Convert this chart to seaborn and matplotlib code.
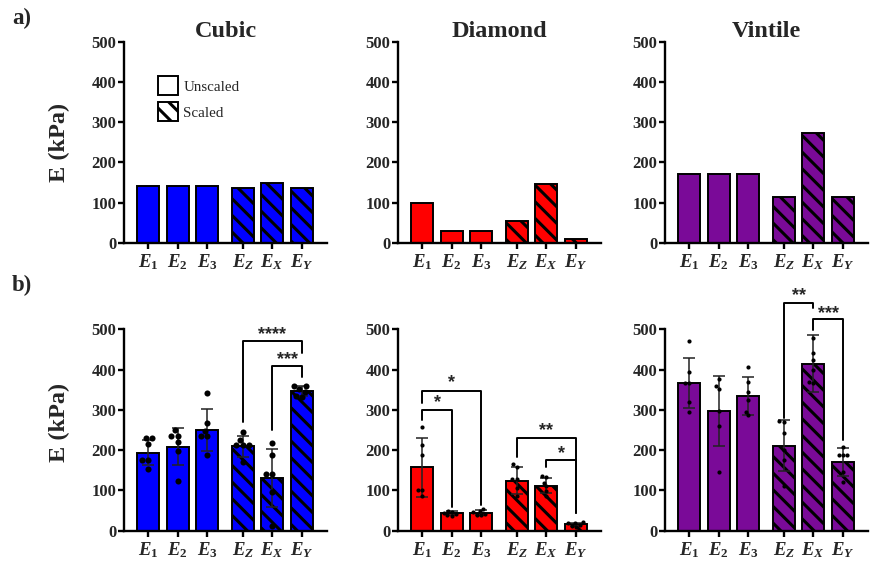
import numpy as np
import pandas as pd
import matplotlib
matplotlib.use("Agg")
import matplotlib.pyplot as plt
import seaborn as sns
from matplotlib.patches import Patch

sns.set_theme(style="ticks")
plt.rcParams["font.family"] = ["Liberation Serif", "DejaVu Serif"]
plt.rcParams["mathtext.fontset"] = "custom"
plt.rcParams["mathtext.rm"] = "Liberation Serif:bold"
plt.rcParams["mathtext.it"] = "Liberation Serif:italic:bold"
plt.rcParams["mathtext.bf"] = "Liberation Serif:bold"
plt.rcParams["hatch.linewidth"] = 2.2

# ---------------- data ----------------
components = ["E1", "E2", "E3", "EZ", "EX", "EY"]
tick_labels = [r"$E_1$", r"$E_2$", r"$E_3$", r"$E_Z$", r"$E_X$", r"$E_Y$"]
is_scaled = [False, False, False, True, True, True]
lattices = ["Cubic", "Diamond", "Vintile"]
lattice_colors = ["#0000ff", "#ff0000", "#7a0a98"]

# (a) single-value moduli
top_cubic = [142, 142, 142, 137, 148, 137]
top_diamond = [100, 29, 29, 53, 145, 8]
top_vintile = [170, 170, 170, 114, 274, 114]

# (b) mean, SD and individual samples
mean_cubic = [194, 209, 250, 210, 131, 346]
sd_cubic = [32, 47, 52, 26, 73, 12]
pts_cubic = [
    [229, 229, 215, 175, 175, 153],
    [250, 236, 236, 220, 198, 123],
    [341, 268, 248, 234, 234, 188],
    [246, 226, 214, 214, 212, 170],
    [218, 188, 140, 140, 95, 12],
    [360, 360, 352, 345, 335, 332],
]
mean_diamond = [157, 43, 45, 124, 112, 16]
sd_diamond = [74, 5, 6, 33, 19, 4]
pts_diamond = [
    [257, 214, 188, 101, 101, 85],
    [50, 47, 44, 41, 38, 36],
    [55, 48, 46, 42, 40, 38],
    [165, 159, 128, 128, 105, 85],
    [137, 133, 118, 110, 98, 85],
    [22, 20, 18, 15, 12, 10],
]
mean_vintile = [366, 297, 335, 211, 415, 171]
sd_vintile = [62, 86, 47, 63, 70, 34]
pts_vintile = [
    [470, 395, 366, 366, 320, 295],
    [376, 358, 351, 298, 260, 146],
    [406, 370, 344, 325, 295, 287],
    [272, 270, 242, 200, 175, 112],
    [479, 440, 424, 400, 370, 366],
    [208, 188, 188, 188, 145, 120],
]

# significance: (i, j, bracket top, left leg end, right leg end, label, label y)
sig_cubic = [(3, 5, 470, 271, 440, "****", 486), (4, 5, 410, 250, 382, "***", 424)]
sig_diamond = [(0, 2, 347, 318, 64, "*", 368), (0, 1, 300, 275, 60, "*", 319),
               (3, 5, 231, 184, 45, "**", 248), (4, 5, 175, 157, 45, "*", 192)]
sig_vintile = [(3, 4, 566, 279, 552, "**", 583), (4, 5, 525, 498, 225, "***", 540)]

top_vals = [top_cubic, top_diamond, top_vintile]
means = [mean_cubic, mean_diamond, mean_vintile]
sds = [sd_cubic, sd_diamond, sd_vintile]
points = [pts_cubic, pts_diamond, pts_vintile]
sigs = [sig_cubic, sig_diamond, sig_vintile]
dot_sizes = [4.4, 3.0, 3.0]

# ---------------- layout ----------------
positions = [0, 1, 2, 3.2, 4.2, 5.2]
W, H = 874, 565
fig = plt.figure(figsize=(W / 100, H / 100), dpi=100)
lefts_px = [124, 398, 665]
ax_w = 203 / W


def make_ax(left_px, y0_px, y500_px):
    return fig.add_axes([left_px / W, 1 - y0_px / H, ax_w, (y0_px - y500_px) / H])


def style(ax):
    ax.set_ylim(0, 500)
    ax.set_xlim(-0.82, 6.05)
    ax.set_yticks([0, 100, 200, 300, 400, 500],
                  labels=["0", "100", "200", "300", "400", "500"], fontweight="bold")
    ax.set_xticks(positions, labels=tick_labels)
    ax.tick_params(axis="both", direction="out", length=4, width=1.7, color="black")
    ax.tick_params(axis="y", labelsize=12, pad=1.5)
    ax.tick_params(axis="x", labelsize=13.5, pad=3)
    for s in ["top", "right"]:
        ax.spines[s].set_visible(False)
    for s in ["left", "bottom"]:
        ax.spines[s].set_linewidth(1.7)
        ax.spines[s].set_color("black")
    ax.set_xlabel("")
    ax.set_ylabel("")


def draw_bars(ax, vals, color):
    df = pd.DataFrame({"pos": positions, "E": vals, "comp": components})
    sns.barplot(data=df, x="pos", y="E", native_scale=True, width=0.75, color=color,
                saturation=1, edgecolor="black", linewidth=1.4, errorbar=None, ax=ax)
    for p in ax.patches:
        cx = p.get_x() + p.get_width() / 2
        k = int(np.argmin([abs(cx - q) for q in positions]))
        if is_scaled[k]:
            p.set_hatch("\\\\")


for c, name in enumerate(lattices):
    col = lattice_colors[c]
    # ---- row a ----
    ax = make_ax(lefts_px[c], 242.7, 41.7)
    draw_bars(ax, top_vals[c], col)
    style(ax)
    ax.set_title(name, fontsize=17.5, fontweight="bold", pad=3)
    if c == 0:
        ax.set_ylabel("E (kPa)", fontsize=17.5, fontweight="bold")
        ax.yaxis.set_label_coords(-0.265, 0.5)
        handles = [Patch(facecolor="white", edgecolor="black", linewidth=1.4, label="Unscaled"),
                   Patch(facecolor="white", edgecolor="black", linewidth=1.4, hatch="\\\\",
                         label="Scaled")]
        ax.legend(handles=handles, loc="upper left", bbox_to_anchor=(0.167, 0.829),
                  frameon=False, fontsize=10.8, handlelength=1.35, handleheight=1.6,
                  handletextpad=0.35, labelspacing=0.45, borderpad=0, borderaxespad=0)

    # ---- row b ----
    ax = make_ax(lefts_px[c], 530.7, 329.3)
    draw_bars(ax, means[c], col)
    ax.errorbar(positions, means[c], yerr=sds[c], fmt="none", ecolor="#222222",
                elinewidth=1.1, capsize=4.2, capthick=1.1, zorder=3)
    rows = []
    for k, vals in enumerate(points[c]):
        for v in vals:
            rows.append({"pos": positions[k], "E": v})
    pdf = pd.DataFrame(rows)
    sns.swarmplot(data=pdf, x="pos", y="E", native_scale=True, color="black",
                  size=dot_sizes[c], ax=ax, zorder=4)
    for (i, j, top, y1, y2, lab, ty) in sigs[c]:
        xi, xj = positions[i], positions[j]
        ax.plot([xi, xi, xj, xj], [y1, top, top, y2], color="black", lw=1.4,
                clip_on=False, zorder=5)
        ax.text((xi + xj) / 2, ty, lab, ha="center", va="center", fontsize=13,
                fontweight="bold", family=["Liberation Sans"], clip_on=False)
    style(ax)
    if c == 0:
        ax.set_ylabel("E (kPa)", fontsize=17.5, fontweight="bold")
        ax.yaxis.set_label_coords(-0.265, 0.54)

fig.text(12 / W, 1 - 8 / H, "a)", fontsize=16.5, fontweight="bold", ha="left", va="top")
fig.text(12 / W, 1 - 275 / H, "b)", fontsize=16.5, fontweight="bold", ha="left", va="top")

fig.savefig("out.png", dpi=100)
